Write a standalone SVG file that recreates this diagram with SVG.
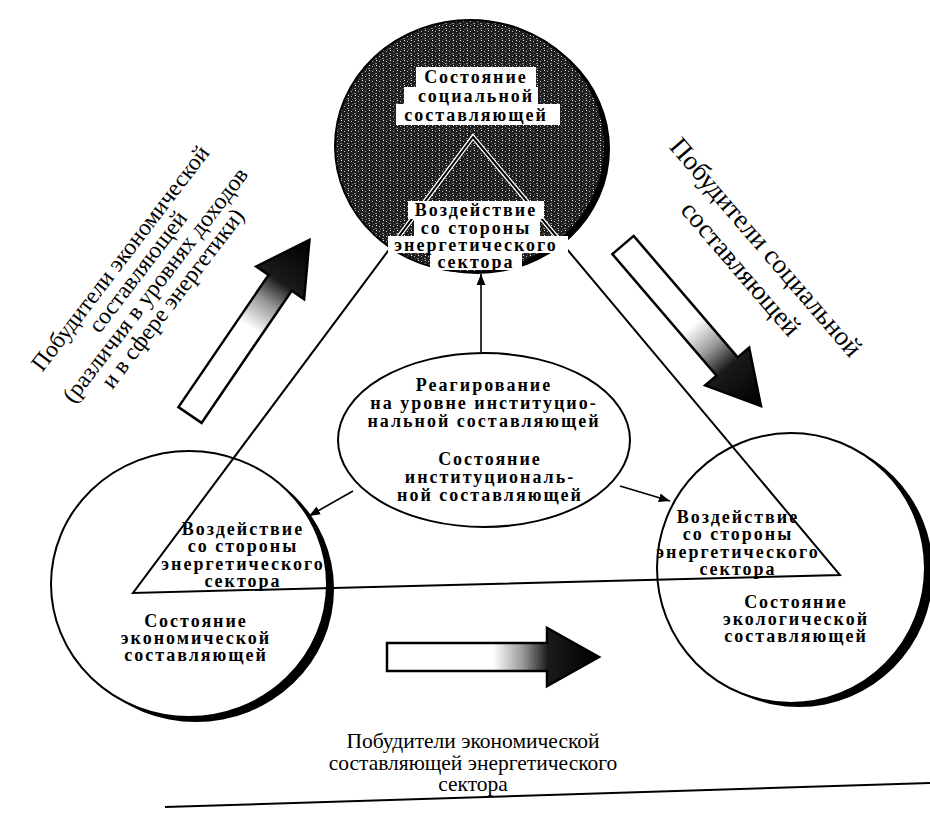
<svg xmlns="http://www.w3.org/2000/svg" xmlns:xlink="http://www.w3.org/1999/xlink" width="930" height="820" viewBox="0 0 930 820">
<defs>
<style>
.nb{font-family:"Liberation Serif","DejaVu Serif",serif;font-weight:bold;font-size:18px;letter-spacing:2px;text-anchor:middle;fill:#000}
.lab{font-family:"Liberation Serif","DejaVu Serif",serif;font-weight:normal;text-anchor:middle;fill:#000}
.ln{fill:none;stroke:#000;stroke-width:2}
.thin{fill:none;stroke:#000;stroke-width:1.6}
.circ{fill:#fff;stroke:#000;stroke-width:2}
.shadow{fill:#000}
.blk{fill:url(#grad);stroke:#000;stroke-width:2.5;stroke-linejoin:miter}
.wbg{fill:#fff}
</style>
<pattern id="tex" width="7" height="5" patternUnits="userSpaceOnUse">
<rect width="7" height="5" fill="#1e1e1e"/>
<rect x="1" y="1" width="1" height="1" fill="#bbb"/>
<rect x="4" y="3" width="2" height="1" fill="#888"/>
<rect x="5" y="0" width="1" height="1" fill="#fff"/>
<rect x="2" y="4" width="1" height="1" fill="#666"/>
</pattern>
<linearGradient id="grad" x1="0" y1="0" x2="1" y2="0">
<stop offset="0" stop-color="#fff"/>
<stop offset="0.5" stop-color="#fff"/>
<stop offset="0.64" stop-color="#999"/>
<stop offset="0.76" stop-color="#1a1a1a"/>
<stop offset="1" stop-color="#000"/>
</linearGradient>
<path id="blkarrow" d="M0,-14 H160 V-29 L212,0 L160,29 V14 H0 Z"/>
<marker id="ah" viewBox="0 0 10 8" refX="10" refY="4" markerWidth="7" markerHeight="6" orient="auto" markerUnits="strokeWidth">
<path d="M0,0 L10,4 L0,8 Z" fill="#000"/>
</marker>
<clipPath id="topclip"><ellipse cx="470" cy="146" rx="134" ry="125"/></clipPath>
</defs>
<rect width="930" height="820" fill="#fff"/>

<g id="social">
<ellipse class="shadow" cx="477" cy="149" rx="133" ry="125"/>
<ellipse cx="470" cy="146" rx="135" ry="126" fill="url(#tex)" stroke="#000" stroke-width="2"/>
<rect class="wbg" x="416" y="67" width="120" height="20"/>
<rect class="wbg" x="404" y="87" width="134" height="17"/>
<rect class="wbg" x="396" y="104" width="164" height="21"/>
<text class="nb" x="476" y="83">Состояние</text>
<text class="nb" x="476" y="102">социальной</text>
<text class="nb" x="476" y="121">составляющей</text>
</g>

<g id="economic">
<ellipse class="shadow" cx="196" cy="589" rx="138" ry="133"/>
<ellipse class="circ" cx="189" cy="584" rx="138" ry="133"/>
<text class="nb" x="196" y="627">Состояние</text>
<text class="nb" x="196" y="644">экономической</text>
<text class="nb" x="196" y="661">составляющей</text>
</g>

<g id="ecological">
<ellipse class="shadow" cx="799" cy="572" rx="134" ry="135"/>
<ellipse class="circ" cx="791" cy="568" rx="134" ry="135"/>
<text class="nb" x="796" y="608">Состояние</text>
<text class="nb" x="796" y="625">экологической</text>
<text class="nb" x="796" y="642">составляющей</text>
</g>

<g id="institutional">
<ellipse class="circ" cx="484" cy="440" rx="146" ry="87"/>
<text class="nb" x="484" y="391">Реагирование</text>
<text class="nb" x="484" y="409">на уровне институцио-</text>
<text class="nb" x="484" y="427">нальной составляющей</text>
<text class="nb" x="490" y="465">Состояние</text>
<text class="nb" x="490" y="483">институциональ-</text>
<text class="nb" x="490" y="501">ной составляющей</text>
</g>

<g id="triangle">
<path d="M473,137 L840,575 L133,593 Z" fill="none" stroke="#fff" stroke-width="4.5" clip-path="url(#topclip)"/>
<path class="ln" d="M473,137 L840,575 L133,593 Z" stroke-width="2.2"/>
</g>

<g id="energy-top">
<rect class="wbg" x="408" y="201" width="136" height="18"/>
<rect class="wbg" x="414" y="219" width="126" height="17"/>
<rect class="wbg" x="388" y="236" width="180" height="17"/>
<rect class="wbg" x="430" y="253" width="92" height="17"/>
<text class="nb" x="476" y="216">Воздействие</text>
<text class="nb" x="476" y="234">со стороны</text>
<text class="nb" x="476" y="251">энергетического</text>
<text class="nb" x="476" y="268">сектора</text>
</g>

<g id="energy-left">
<text class="nb" x="243" y="535">Воздействие</text>
<text class="nb" x="243" y="552">со стороны</text>
<text class="nb" x="243" y="570">энергетического</text>
<text class="nb" x="243" y="587">сектора</text>
</g>

<g id="energy-right">
<text class="nb" x="738" y="523">Воздействие</text>
<text class="nb" x="738" y="540">со стороны</text>
<text class="nb" x="738" y="558">энергетического</text>
<text class="nb" x="738" y="575">сектора</text>
</g>

<g id="connectors">
<line class="thin" x1="481" y1="352" x2="481" y2="274" marker-end="url(#ah)"/>
<line class="thin" x1="353" y1="491" x2="309" y2="516" marker-end="url(#ah)"/>
<line class="thin" x1="620" y1="486" x2="670" y2="501" marker-end="url(#ah)"/>
</g>

<g id="drivers">
<use xlink:href="#blkarrow" class="blk" transform="translate(190,415) rotate(-55.7)"/>
<use xlink:href="#blkarrow" class="blk" transform="translate(623,245) rotate(49.4)"/>
<use xlink:href="#blkarrow" class="blk" transform="translate(387,657)"/>
</g>

<g id="label-economic-drivers" class="lab" font-size="23.5" transform="translate(120,258) rotate(-52.6)">
<text x="0" y="8">Побудители экономической</text>
<text x="0" y="30">составляющей</text>
<text x="0" y="52">(различия в уровнях доходов</text>
<text x="0" y="74">и в сфере энергетики)</text>
</g>

<g id="label-social-drivers" class="lab" font-size="27" transform="translate(766,247) rotate(49.3)">
<text x="0" y="9">Побудители социальной</text>
<text x="0" y="42">составляющей</text>
</g>

<g id="label-energy-drivers" class="lab" font-size="21.5">
<text x="473" y="748">Побудители экономической</text>
<text x="473" y="770">составляющей энергетического</text>
<text x="473" y="791">сектора</text>
</g>

<line class="ln" x1="165" y1="807" x2="930" y2="783" stroke-width="2"/>
</svg>
